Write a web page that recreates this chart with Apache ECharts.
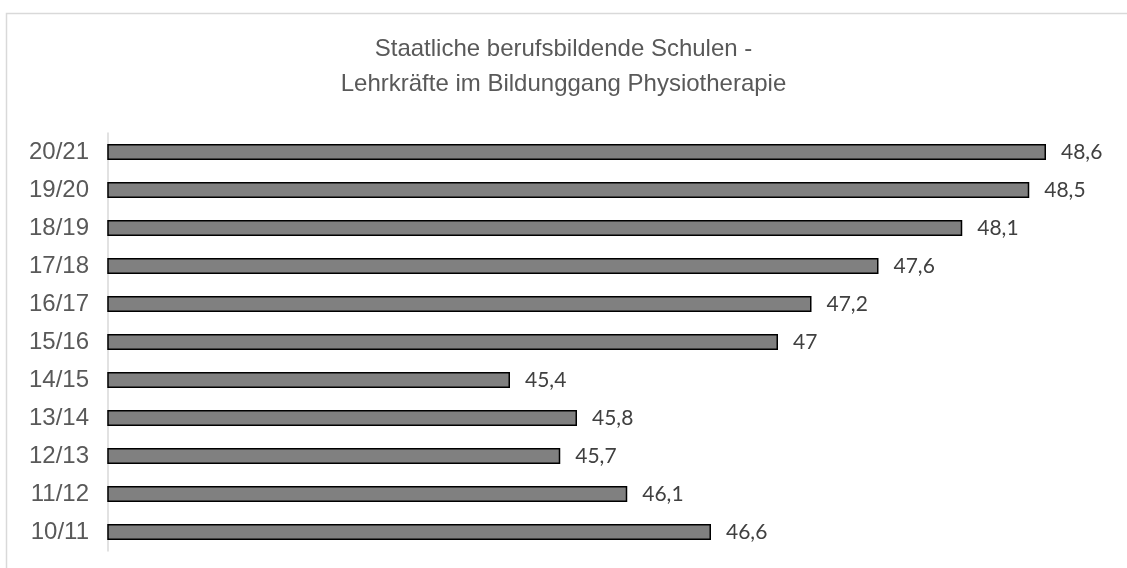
<!DOCTYPE html>
<html>
<head>
<meta charset="utf-8">
<script src="https://cdn.jsdelivr.net/npm/echarts@6/dist/echarts.min.js"></script>
<style>html,body{margin:0;padding:0;background:#fff}#c{width:1127px;height:568px}</style>
</head>
<body>
<div id="c"></div>
<script>
const categories = ["10/11","11/12","12/13","13/14","14/15","15/16","16/17","17/18","18/19","19/20","20/21"];
const values = [46.6, 46.1, 45.7, 45.8, 45.4, 47.0, 47.2, 47.6, 48.1, 48.5, 48.6];
const titleLines = ["Staatliche berufsbildende Schulen -", "Lehrkräfte im Bildunggang Physiotherapie"];

const chart = echarts.init(document.getElementById('c'), null, {renderer: 'canvas'});
chart.setOption({
  animation: false,
  backgroundColor: '#fff',
  graphic: [{
    type: 'rect', left: 4, top: 11, shape: {width: 1130, height: 570},
    style: {fill: 'none', stroke: '#d9d9d9', lineWidth: 1.5}, silent: true
  }],
  title: {
    text: titleLines.join('\n'),
    left: 'center', top: 27,
    textStyle: {fontFamily: 'Liberation Sans', fontSize: 24, fontWeight: 'normal', color: '#595959', lineHeight: 35}
  },
  grid: {left: 108, right: 14, top: 133, bottom: 17, containLabel: false},
  xAxis: {
    type: 'value', min: 43, max: 49, interval: 1,
    axisLine: {show: false}, axisTick: {show: false}, axisLabel: {show: false}, splitLine: {show: false}
  },
  yAxis: {
    type: 'category', data: categories,
    axisLine: {show: true, lineStyle: {color: '#d9d9d9', width: 1.5}},
    axisTick: {show: false},
    axisLabel: {fontFamily: 'Liberation Sans', fontSize: 24, color: '#595959', margin: 19}
  },
  series: [{
    type: 'bar', data: values, barWidth: 16,
    itemStyle: {color: '#808080', borderColor: '#000', borderWidth: 1.5},
    label: {
      show: true, position: 'right', distance: 15,
      fontFamily: 'Lato, Open Sans, sans-serif', fontSize: 21, color: '#404040',
      formatter: p => String(p.value).replace('.', ',')
    }
  }]
});
</script>
</body>
</html>
